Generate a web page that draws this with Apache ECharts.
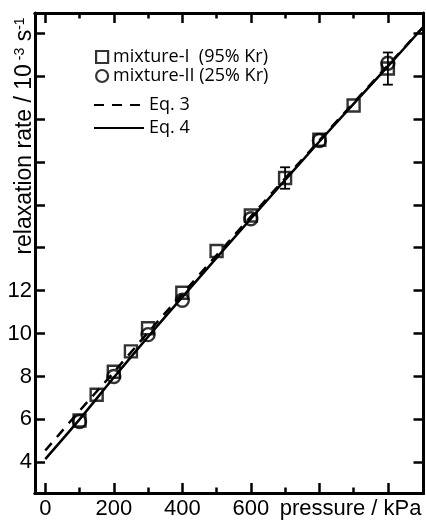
<!DOCTYPE html>
<html><head><meta charset="utf-8">
<script src="https://cdn.jsdelivr.net/npm/echarts@6/dist/echarts.min.js"></script>
<style>html,body{margin:0;padding:0;background:#fff}#c{width:426px;height:520px}</style>
</head><body><div id="c"></div>
<script>
// mixture-I (95% Kr), squares
const pressureI = [100, 150, 200, 250, 300, 400, 500, 600, 700, 800, 900, 1000];
const rateI     = [5.95, 7.15, 8.22, 9.17, 10.25, 11.9, 13.85, 15.5, 17.25, 19.03, 20.63, 22.35];
// mixture-II (25% Kr), circles
const pressureII = [100, 200, 300, 400, 600, 800, 1000];
const rateII     = [5.9, 8.0, 9.95, 11.55, 15.35, 19.0, 22.6];
// error bars
const errPressure = [700, 1000];
const errRate     = [17.25, 22.35];
const errHalf     = [0.5, 0.75];
// model curves
const eqPressure = [0, 100, 200, 300, 400, 600, 800, 1000, 1104];
const eq3Rate    = [4.55, 6.4, 8.2, 10.05, 11.85, 15.45, 19.0, 22.5, 24.3];
const eq4Rate    = [4.15, 6.0, 7.95, 9.85, 11.7, 15.35, 18.95, 22.45, 24.3];
// ticks / labels
const xMajorTicks = [0, 200, 400, 600, 800, 1000];
const xMinorTicks = [100, 300, 500, 700, 900];
const xTickLabels = [0, 200, 400, 600];
const yTicks      = [4, 6, 8, 10, 12, 14, 16, 18, 20, 22, 24];
const yTickLabels = [4, 6, 8, 10, 12];

const X_MIN = -30, X_MAX = 1104, Y_MIN = 2.57, Y_MAX = 24.94;
const axisFont = 'Liberation Sans';
const legendFont = 'Open Sans';

const chart = echarts.init(document.getElementById('c'), null, {renderer: 'canvas'});

function xAx(pos, ticks, len, showLabel, extra) {
  return Object.assign({
    type: 'value', position: pos, min: X_MIN, max: X_MAX,
    axisLine: {show: true, onZero: false, lineStyle: {color: '#000', width: 3}},
    axisTick: {show: true, inside: true, length: len, customValues: ticks, lineStyle: {color: '#000', width: 2.5}},
    axisLabel: {show: showLabel, customValues: xTickLabels, margin: 5, color: '#000', fontSize: 22, fontFamily: axisFont},
    splitLine: {show: false}
  }, extra || {});
}
function yAx(pos, showLabel) {
  return {
    type: 'value', position: pos, min: Y_MIN, max: Y_MAX,
    axisLine: {show: true, onZero: false, lineStyle: {color: '#000', width: 3}},
    axisTick: {show: true, inside: true, length: 10, customValues: yTicks, lineStyle: {color: '#000', width: 2.5}},
    axisLabel: {show: showLabel, customValues: yTickLabels, margin: 3, color: '#000', fontSize: 22, fontFamily: axisFont},
    splitLine: {show: false}
  };
}

const option = {
  backgroundColor: '#fff',
  animation: false,
  grid: {left: 35, right: 2.5, top: 13, bottom: 19.5, containLabel: false},
  xAxis: [
    xAx('bottom', xMajorTicks, 10, true, {
      name: 'pressure / kPa', nameLocation: 'end', nameGap: -2,
      nameTextStyle: {align: 'right', verticalAlign: 'top', padding: [5, 0, 0, 0], color: '#000', fontSize: 22, fontFamily: axisFont}
    }),
    xAx('bottom', xMinorTicks, 5.5, false),
    xAx('top', xMajorTicks, 10, false),
    xAx('top', xMinorTicks, 5.5, false)
  ],
  yAxis: [yAx('left', true), yAx('right', false)],
  legend: [
    {
      data: ['mixture-I  (95% Kr)', 'mixture-II (25% Kr)'],
      orient: 'vertical', left: 90, top: 43, itemGap: 1, itemWidth: 12, itemHeight: 12,
      itemStyle: {color: 'rgba(0,0,0,0)', borderColor: '#000', borderWidth: 2.2},
      textStyle: {color: '#000', fontSize: 18, fontFamily: legendFont}
    },
    {
      data: ['Eq. 3', 'Eq. 4'],
      orient: 'vertical', left: 88, top: 91, itemGap: 5, itemWidth: 50, itemHeight: 14,
      itemStyle: {opacity: 0},
      textStyle: {color: '#000', fontSize: 18, fontFamily: legendFont}
    }
  ],
  graphic: [{
    type: 'text', x: 25, y: 136, rotation: Math.PI / 2,
    style: {
      text: 'relaxation rate / 10{s| -3} s{s|-1}',
      fontSize: 23, fontFamily: axisFont, fill: '#000',
      align: 'center', verticalAlign: 'middle',
      rich: {s: {fontSize: 14, fontFamily: axisFont, fill: '#000', verticalAlign: 'top', lineHeight: 23, padding: [0, 0, 10, 0]}}
    }
  }],
  series: [
    {
      name: 'Eq. 3', type: 'line', data: eqPressure.map((p, i) => [p, eq3Rate[i]]),
      showSymbol: false, symbol: 'none', smooth: 0.3, clip: true,
      lineStyle: {color: '#000', width: 2.5, type: [10, 8]}, itemStyle: {color: '#000'}
    },
    {
      name: 'Eq. 4', type: 'line', data: eqPressure.map((p, i) => [p, eq4Rate[i]]),
      showSymbol: false, symbol: 'none', smooth: 0.3, clip: true,
      lineStyle: {color: '#000', width: 2.5, type: 'solid'}, itemStyle: {color: '#000'}
    },
    {
      name: 'error', type: 'custom',
      data: errPressure.map((p, i) => [p, errRate[i] - errHalf[i], errRate[i] + errHalf[i]]),
      renderItem: function (params, api) {
        const x = api.value(0), lo = api.value(1), hi = api.value(2);
        const a = api.coord([x, hi]), b = api.coord([x, lo]);
        const w = 5, st = {stroke: '#000', lineWidth: 1.8};
        return {type: 'group', children: [
          {type: 'line', shape: {x1: a[0], y1: a[1], x2: b[0], y2: b[1]}, style: st},
          {type: 'line', shape: {x1: a[0] - w, y1: a[1], x2: a[0] + w, y2: a[1]}, style: st},
          {type: 'line', shape: {x1: b[0] - w, y1: b[1], x2: b[0] + w, y2: b[1]}, style: st}
        ]};
      }
    },
    {
      name: 'mixture-II (25% Kr)', type: 'scatter', symbol: 'circle', symbolSize: 13,
      data: pressureII.map((p, i) => [p, rateII[i]]),
      itemStyle: {color: 'rgba(0,0,0,0)', borderColor: '#000', borderWidth: 2.4}
    },
    {
      name: 'mixture-I  (95% Kr)', type: 'scatter', symbol: 'rect', symbolSize: 12,
      data: pressureI.map((p, i) => [p, rateI[i]]),
      itemStyle: {color: 'rgba(0,0,0,0)', borderColor: '#000', borderWidth: 2.4}
    }
  ]
};
chart.setOption(option);
</script>
</body></html>
